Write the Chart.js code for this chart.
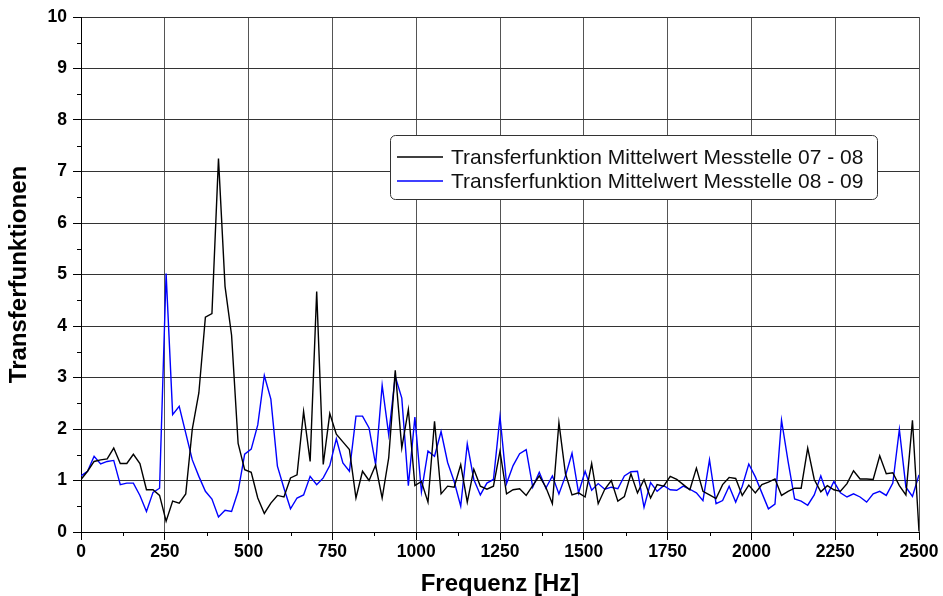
<!DOCTYPE html>
<html>
<head>
<meta charset="utf-8">
<script src="https://cdn.jsdelivr.net/npm/chart.js@4.4.1/dist/chart.umd.min.js"></script>
<style>
  html, body { margin: 0; padding: 0; background: #fff; }
  #wrap { width: 943px; height: 596px; position: relative; }
</style>
</head>
<body>
<div id="wrap"><canvas id="c" width="943" height="596"></canvas></div>
<script>
// ---- data ----
const freqMax = 2500;
const binCount = 128;               // FFT bins: spacing 2500/128 Hz
const xTicks = [0, 250, 500, 750, 1000, 1250, 1500, 1750, 2000, 2250, 2500];
const yTicks = [0, 1, 2, 3, 4, 5, 6, 7, 8, 9, 10];
const seriesLabels = [
  'Transferfunktion Mittelwert Messtelle 07 - 08',
  'Transferfunktion Mittelwert Messtelle 08 - 09'
];
const tf0708 = [
  1.02, 1.18, 1.37, 1.40, 1.42, 1.63, 1.33, 1.33, 1.51, 1.33,
  0.82, 0.82, 0.71, 0.21, 0.60, 0.56, 0.74, 2.00, 2.70, 4.17,
  4.24, 7.25, 4.77, 3.82, 1.72, 1.21, 1.16, 0.66, 0.36, 0.56,
  0.71, 0.68, 1.05, 1.11, 2.34, 1.37, 4.67, 1.31, 2.30, 1.90,
  1.75, 1.60, 0.66, 1.18, 1.00, 1.30, 0.66, 1.44, 3.14, 1.63,
  2.38, 0.90, 0.98, 0.58, 2.15, 0.74, 0.89, 0.87, 1.31, 0.58,
  1.22, 0.89, 0.83, 0.89, 1.57, 0.74, 0.82, 0.84, 0.71, 0.90,
  1.09, 0.87, 0.55, 2.12, 1.13, 0.72, 0.76, 0.68, 1.33, 0.55,
  0.83, 1.00, 0.60, 0.69, 1.13, 0.76, 1.02, 0.66, 0.92, 0.89,
  1.08, 1.02, 0.92, 0.82, 1.24, 0.79, 0.72, 0.65, 0.92, 1.06,
  1.04, 0.71, 0.91, 0.76, 0.92, 0.97, 1.03, 0.71, 0.79, 0.85,
  0.85, 1.63, 1.02, 0.78, 0.90, 0.82, 0.79, 0.94, 1.19, 1.03,
  1.03, 1.02, 1.48, 1.13, 1.15, 0.90, 0.72, 2.17, 0.01
];
const tf0809 = [
  1.09, 1.18, 1.47, 1.32, 1.37, 1.39, 0.92, 0.95, 0.95, 0.71,
  0.40, 0.77, 0.85, 5.02, 2.28, 2.44, 1.92, 1.40, 1.08, 0.79,
  0.64, 0.29, 0.42, 0.40, 0.79, 1.51, 1.61, 2.08, 3.04, 2.58,
  1.28, 0.85, 0.45, 0.66, 0.72, 1.08, 0.92, 1.05, 1.29, 1.81,
  1.34, 1.18, 2.25, 2.25, 2.02, 1.31, 2.85, 1.89, 3.02, 2.60,
  0.90, 2.23, 0.78, 1.57, 1.47, 1.95, 1.35, 0.98, 0.50, 1.71,
  1.02, 0.72, 0.95, 1.02, 2.24, 0.94, 1.29, 1.52, 1.60, 0.87,
  1.16, 0.85, 1.09, 0.74, 1.09, 1.53, 0.76, 1.18, 0.81, 0.94,
  0.83, 0.87, 0.84, 1.09, 1.17, 1.18, 0.48, 0.96, 0.79, 0.90,
  0.82, 0.81, 0.89, 0.83, 0.76, 0.61, 1.40, 0.55, 0.61, 0.89,
  0.58, 0.89, 1.32, 1.07, 0.76, 0.45, 0.54, 2.17, 1.37, 0.64,
  0.60, 0.52, 0.72, 1.09, 0.72, 0.98, 0.76, 0.68, 0.74, 0.68,
  0.58, 0.74, 0.79, 0.71, 0.95, 1.99, 0.87, 0.69, 1.11
];
const freqs = tf0708.map((_, i) => i * freqMax / binCount);
const toPoints = vals => vals.map((v, i) => ({ x: freqs[i], y: v }));

// ---- plugins ----
const minorTicks = {
  id: 'minorTicks',
  afterDraw(chart) {
    const { ctx, scales: { x, y } } = chart;
    ctx.save();
    ctx.strokeStyle = '#000';
    ctx.lineWidth = 1;
    ctx.beginPath();
    for (let i = 0; i < xTicks.length - 1; i++) {
      const px = Math.round(x.getPixelForValue((xTicks[i] + xTicks[i + 1]) / 2)) + 0.5;
      ctx.moveTo(px, y.bottom);
      ctx.lineTo(px, y.bottom + 4);
    }
    for (let i = 0; i < yTicks.length - 1; i++) {
      const py = Math.round(y.getPixelForValue((yTicks[i] + yTicks[i + 1]) / 2)) + 0.5;
      ctx.moveTo(x.left, py);
      ctx.lineTo(x.left - 4, py);
    }
    ctx.stroke();
    ctx.restore();
  }
};

const boxLegend = {
  id: 'boxLegend',
  afterDraw(chart) {
    const { ctx } = chart;
    const L = 390.5, T = 135.5, W = 487, H = 64, r = 5;
    ctx.save();
    ctx.beginPath();
    ctx.moveTo(L + r, T);
    ctx.lineTo(L + W - r, T);
    ctx.arcTo(L + W, T, L + W, T + r, r);
    ctx.lineTo(L + W, T + H - r);
    ctx.arcTo(L + W, T + H, L + W - r, T + H, r);
    ctx.lineTo(L + r, T + H);
    ctx.arcTo(L, T + H, L, T + H - r, r);
    ctx.lineTo(L, T + r);
    ctx.arcTo(L, T, L + r, T, r);
    ctx.closePath();
    ctx.fillStyle = '#fff';
    ctx.fill();
    ctx.strokeStyle = '#333';
    ctx.lineWidth = 1;
    ctx.stroke();
    const rows = [157, 181];
    chart.data.datasets.forEach((ds, i) => {
      ctx.strokeStyle = ds.borderColor;
      ctx.lineWidth = 1.3;
      ctx.beginPath();
      ctx.moveTo(397, rows[i]);
      ctx.lineTo(443, rows[i]);
      ctx.stroke();
      ctx.fillStyle = '#111';
      ctx.font = '21px "Liberation Sans", Arial, sans-serif';
      ctx.textBaseline = 'middle';
      ctx.textAlign = 'left';
      ctx.fillText(ds.label, 451, rows[i] + 1);
    });
    ctx.restore();
  }
};

const tickFont = { family: '"Liberation Sans", Arial, sans-serif', size: 17.5, weight: 'bold' };
const titleFont = { family: '"Liberation Sans", Arial, sans-serif', size: 24, weight: 'bold' };
const plainNumber = v => String(v);

new Chart(document.getElementById('c'), {
  type: 'line',
  data: {
    datasets: [
      { label: seriesLabels[0], data: toPoints(tf0708), borderColor: '#000000', borderWidth: 1.4, pointRadius: 0, tension: 0, fill: false },
      { label: seriesLabels[1], data: toPoints(tf0809), borderColor: '#0000ff', borderWidth: 1.4, pointRadius: 0, tension: 0, fill: false }
    ]
  },
  options: {
    responsive: false,
    animation: false,
    layout: { padding: { top: 17, right: 24, left: 0, bottom: 0 } },
    plugins: { legend: { display: false }, tooltip: { enabled: false } },
    scales: {
      x: {
        type: 'linear', min: 0, max: freqMax,
        afterBuildTicks: s => { s.ticks = xTicks.map(v => ({ value: v })); },
        afterFit: s => { s.height = 64; },
        ticks: { font: tickFont, color: '#000', padding: 2, maxRotation: 0, autoSkip: false, callback: plainNumber },
        grid: { color: '#555', lineWidth: 1, tickColor: '#000', tickLength: 8 },
        border: { color: '#000', width: 1 },
        title: { display: true, text: 'Frequenz [Hz]', font: titleFont, color: '#000', padding: { top: 0, bottom: -3 } }
      },
      y: {
        type: 'linear', min: 0, max: 10,
        afterBuildTicks: s => { s.ticks = yTicks.map(v => ({ value: v })); },
        afterFit: s => { s.width = 81; },
        ticks: { font: tickFont, color: '#000', padding: 6, autoSkip: false, callback: plainNumber },
        grid: { color: '#333', lineWidth: 1, tickColor: '#000', tickLength: 8 },
        border: { color: '#000', width: 1 },
        title: { display: true, text: 'Transferfunktionen', font: titleFont, color: '#000', padding: { top: 5, bottom: 0 } }
      }
    }
  },
  plugins: [minorTicks, boxLegend]
});
</script>
</body>
</html>
